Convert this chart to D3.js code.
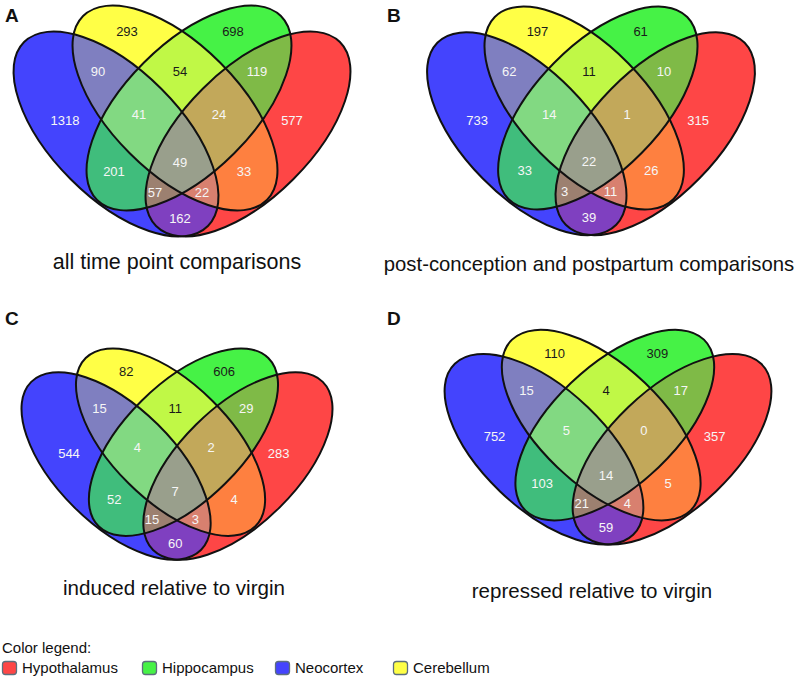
<!DOCTYPE html>
<html>
<head>
<meta charset="utf-8">
<script src="https://cdn.jsdelivr.net/npm/d3@7"></script>
<style>
  html, body { margin: 0; padding: 0; background: #fff; }
  svg { display: block; font-family: Arial, "Liberation Sans", Helvetica, sans-serif; }
</style>
</head>
<body>
<script>
// ---------------- data ----------------
const setNames = ["Neocortex", "Cerebellum", "Hippocampus", "Hypothalamus"]; // B, Y, G, R
const setKeys = ["B", "Y", "G", "R"];
const regionKeys = ["B","Y","G","R","BY","YG","GR","BG","YR","BR","BYG","YGR","BGR","BYR","BYGR"];
const countsA = [1318, 293, 698, 577, 90, 54, 119, 201, 33, 162, 41, 24, 57, 22, 49];
const countsB = [733, 197, 61, 315, 62, 11, 10, 33, 26, 39, 14, 1, 3, 11, 22];
const countsC = [544, 82, 606, 283, 15, 11, 29, 52, 4, 60, 4, 2, 15, 3, 7];
const countsD = [752, 110, 309, 357, 15, 4, 17, 103, 5, 59, 5, 0, 21, 4, 14];
const panelLetters = ["A", "B", "C", "D"];
const captions = ["all time point comparisons", "post-conception and postpartum comparisons",
                  "induced relative to virgin", "repressed relative to virgin"];
const legendNames = ["Hypothalamus", "Hippocampus", "Neocortex", "Cerebellum"];
const legendKeys = ["R", "G", "B", "Y"];

// ---------------- styles / layout ----------------
const regionColors = ["#4444fd","#ffff46","#46f246","#fe4646","#7f7fc0","#c0f846","#7fba47","#40bd7c",
                      "#fe8040","#7f40c0","#82d982","#c2a85a","#9c8070","#d8806f","#999f8c"];
const color = d3.scaleOrdinal().domain(regionKeys).range(regionColors);
const darkText = new Set(["Y", "G", "YG"]);

// ellipse geometry in panel unit space (origin = central crossing)
const ellipses = {
  B: {x: -66, y: 24, rot: 45},
  Y: {x: -7, y: -2, rot: 45},
  G: {x: 7, y: -2, rot: -45},
  R: {x: 66, y: 24, rot: -45}
};
const RX = 130, RY = 64;
const labelPos = {
  B: [-117, 10], Y: [-55, -79], G: [51, -79], R: [110, 10],
  BY: [-84, -39], YG: [-2, -39], GR: [75, -39],
  BYG: [-43, 4], YGR: [37, 4],
  BG: [-68, 61], BYGR: [-2, 52], YR: [62, 61],
  BGR: [-27, 82], BYR: [20, 82], BR: [-2, 108]
};
const panels = [
  {counts: countsA, cx: 182, cy: 110, sx: 1.0, sy: 1.0, lx: 5, ly: 22, capX: 177, capY: 269, capSize: 21.5},
  {counts: countsB, cx: 591, cy: 110, sx: 0.973, sy: 0.99, lx: 387, ly: 22, capX: 589, capY: 271, capSize: 20.3},
  {counts: countsC, cx: 177, cy: 444, sx: 0.923, sy: 0.915, lx: 5, ly: 325, capX: 174, capY: 595, capSize: 20.6},
  {counts: countsD, cx: 608, cy: 427, sx: 0.97, sy: 0.93, lx: 387, ly: 325, capX: 592, capY: 598, capSize: 20.5}
];

const W = 798, H = 679;
const svg = d3.select("body").append("svg").attr("width", W).attr("height", H);
const defs = svg.append("defs");

panels.forEach((p, pi) => {
  // clip paths for every ellipse
  setKeys.forEach(k => {
    const e = ellipses[k];
    defs.append("clipPath").attr("id", `c${pi}${k}`)
      .append("ellipse")
      .attr("rx", RX).attr("ry", RY)
      .attr("transform", `translate(${e.x},${e.y}) rotate(${e.rot})`);
  });

  const g = svg.append("g").attr("transform", `translate(${p.cx},${p.cy}) scale(${p.sx},${p.sy})`);

  // regions, painted in order of increasing membership
  const ordered = regionKeys.slice().sort((a, b) => a.length - b.length);
  ordered.forEach(rk => {
    const members = rk.split("");
    let container = g;
    members.slice(1).forEach(m => {
      container = container.append("g").attr("clip-path", `url(#c${pi}${m})`);
    });
    const e = ellipses[members[0]];
    container.append("ellipse")
      .attr("rx", RX).attr("ry", RY)
      .attr("transform", `translate(${e.x},${e.y}) rotate(${e.rot})`)
      .attr("fill", color(rk));
  });

  // outlines
  g.selectAll("ellipse.outline").data(setKeys).enter().append("ellipse")
    .attr("class", "outline")
    .attr("rx", RX).attr("ry", RY)
    .attr("transform", k => `translate(${ellipses[k].x},${ellipses[k].y}) rotate(${ellipses[k].rot})`)
    .attr("fill", "none").attr("stroke", "#111").attr("stroke-width", 2)
    .attr("vector-effect", "non-scaling-stroke");

  // counts
  svg.append("g").selectAll("text").data(regionKeys).enter().append("text")
    .attr("x", (k) => p.cx + labelPos[k][0] * p.sx)
    .attr("y", (k) => p.cy + labelPos[k][1] * p.sy)
    .attr("dy", "0.36em")
    .attr("text-anchor", "middle")
    .attr("font-size", 13)
    .attr("fill", k => darkText.has(k) ? "#1a1a1a" : "#f6f6f6")
    .text((k, i) => p.counts[i]);

  // panel letter
  svg.append("text").attr("x", p.lx).attr("y", p.ly)
    .attr("font-size", 19).attr("font-weight", "bold").attr("fill", "#111")
    .text(panelLetters[pi]);

  // caption
  svg.append("text").attr("x", p.capX).attr("y", p.capY)
    .attr("text-anchor", "middle").attr("font-size", p.capSize).attr("fill", "#111")
    .text(captions[pi]);
});

// legend
svg.append("text").attr("x", 2).attr("y", 653).attr("font-size", 15).attr("fill", "#111")
  .text("Color legend:");
const legendX = [2, 142, 275, 393];
const lg = svg.append("g").selectAll("g").data(legendNames).enter().append("g")
  .attr("transform", (d, i) => `translate(${legendX[i]},661)`);
lg.append("rect").attr("x", 0.5).attr("y", 0.5).attr("width", 14).attr("height", 13)
  .attr("rx", 3).attr("ry", 3)
  .attr("fill", (d, i) => color(legendKeys[i]))
  .attr("stroke", "#5d6f7d").attr("stroke-width", 1.3);
lg.append("text").attr("x", 20).attr("y", 12).attr("font-size", 15).attr("fill", "#111")
  .text(d => d);
</script>
</body>
</html>
